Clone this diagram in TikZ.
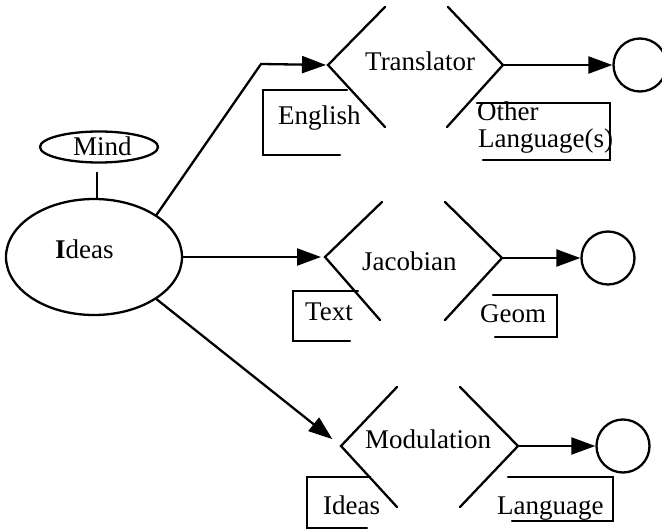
\documentclass[tikz,border=0pt]{standalone}
\usepackage{fontspec}
\setmainfont{Liberation Serif}
\usetikzlibrary{arrows.meta,shapes.geometric}
\tikzset{
  ln/.style={line width=2.3pt, line cap=round, line join=miter},
  arr/.style={ln, -{Triangle[length=24pt,width=17pt]}},
  lbl/.style={inner sep=0pt, font=\fontsize{27}{30}\selectfont, anchor=base west},
  endcirc/.style={ln, draw, circle, minimum size=53pt, inner sep=0pt},
  oval/.style={ln, draw, ellipse, inner sep=0pt}
}
\begin{document}
\begin{tikzpicture}[x=1pt,y=-1pt]
\useasboundingbox (0,0) rectangle (662,530);
\clip (0,0) rectangle (662,530);
\fill[white] (0,0) rectangle (662,530);

% Mind and Ideas
\node[oval, minimum width=118pt, minimum height=31pt] (mind) at (99,147) {};
\node[lbl] (mindt) at (73,155) {Mind};
\node[oval, minimum width=176pt, minimum height=116pt] (ideas) at (94,257) {};
\node[lbl] (ideast) at (55,258) {\textbf{I}deas};
\draw[ln] ([xshift=-2pt,yshift=-9pt]mind.south) -- ([xshift=3pt]ideas.north);

% Translator block
\coordinate (trL) at (328,65);
\coordinate (trR) at (503,65);
\coordinate (bend) at (261,64);
\draw[ln] (385,7) -- (trL) -- (385,127);
\draw[ln] (448,7) -- (trR) -- (447,127);
\node[lbl] (trt) at (365,70) {Translator};
\node[endcirc] (c1) at (640,65) {};
\draw[arr, shorten >=2pt] (ideas.34) -- (bend) -- (trL);
\draw[arr] (trR) -- (c1);
\node[lbl] (eng) at (278,124) {English};
\draw[ln] (347,90) -- (263,90) -- (263,155) -- (340,155);
\node[lbl] (oth) at (477,120) {Other};
\node[lbl] (lang1) at (478,147) {Language(s)};
\draw[ln] (477,103) -- (610,103) -- (610,160) -- (483,160);

% Jacobian block
\coordinate (jaL) at (325,257);
\coordinate (jaR) at (502,258);
\draw[ln] (382,202) -- (jaL) -- (380,320);
\draw[ln] (445,202) -- (jaR) -- (445,320);
\node[lbl] (jat) at (362,270) {Jacobian};
\node[endcirc] (c2) at (608,258) {};
\draw[arr, shorten >=4pt] (ideas.east) -- (jaL);
\draw[arr] (jaR) -- (c2);
\node[lbl] (txt) at (305,320) {Text};
\draw[ln] (358,291) -- (293,291) -- (293,341) -- (350,341);
\node[lbl] (geom) at (480,322) {Geom};
\draw[ln] (493,295) -- (557,295) -- (557,337) -- (495,337);

% Modulation block
\coordinate (moL) at (341,446);
\coordinate (moR) at (518,446);
\draw[ln] (397,387) -- (moL) -- (397,507);
\draw[ln] (460,387) -- (moR) -- (460,507);
\node[lbl] (mot) at (365,448) {Modulation};
\node[endcirc] (c3) at (623,446) {};
\draw[arr, shorten >=11pt] (ideas.-34) -- (moL);
\draw[arr] (moR) -- (c3);
\node[lbl] (ids) at (323,514) {Ideas};
\draw[ln] (370,477) -- (307,477) -- (307,528) -- (367,528);
\node[lbl] (lang2) at (497,514) {Language};
\draw[ln] (508,477) -- (613,477) -- (613,521) -- (512,521);
\end{tikzpicture}
\end{document}
